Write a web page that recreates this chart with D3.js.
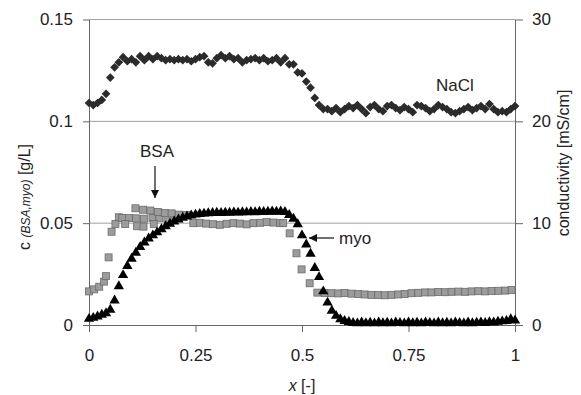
<!DOCTYPE html>
<html>
<head>
<meta charset="utf-8">
<script src="https://cdn.jsdelivr.net/npm/d3@7"></script>
<style>
  body { margin: 0; background: #fff; }
  svg text { font-family: "Liberation Sans", Arial, sans-serif; fill: #222; }
</style>
</head>
<body>
<div id="chart"></div>
<script>
// sample grid used by NaCl and myo (step 0.01)
const xGrid = d3.range(0, 101).map(i => i / 100);

// NaCl conductivity [mS/cm], right axis
const naclValues = [
  21.8, 21.6, 21.8, 22.1, 22.7, 24.3, 25.3, 25.8, 26.3, 25.9,
  26.1, 25.8, 26.4, 26.0, 26.4, 26.1, 26.4, 26.2, 26.0, 26.1,
  26.0, 26.1, 26.0, 26.1, 25.9, 26.1, 26.3, 26.4, 25.8, 25.7,
  26.2, 26.5, 26.2, 26.4, 26.1, 26.2, 25.8, 26.0, 26.1, 26.2,
  26.0, 26.2, 25.9, 26.0, 26.2, 25.8, 26.2, 25.6, 25.6, 24.8,
  24.7, 23.9, 23.3, 22.3, 21.6, 21.2, 21.2, 21.0, 21.3, 20.9,
  21.2, 21.5, 21.3, 21.6, 21.2, 20.8, 21.4, 21.6, 21.2, 21.0,
  21.5, 21.6, 21.3, 21.1, 21.4, 21.2, 20.9, 21.6, 21.5, 21.3,
  21.0, 21.2, 21.6, 21.4, 21.2, 20.9, 20.8, 21.0, 21.2, 21.4,
  21.1, 21.3, 21.5, 21.2, 21.7, 21.2, 20.9, 21.0, 20.9, 21.2,
  21.5
];

// myoglobin concentration [g/L], left axis
const myoValues = [
  0.0030, 0.0035, 0.0042, 0.0050, 0.0058, 0.0075, 0.0120, 0.0190, 0.0245, 0.0290,
  0.0325, 0.0355, 0.0383, 0.0405, 0.0425, 0.0440, 0.0455, 0.0470, 0.0485, 0.0497,
  0.0508, 0.0518, 0.0527, 0.0533, 0.0538, 0.0542, 0.0545, 0.0547, 0.0549, 0.0550,
  0.0551, 0.0550, 0.0552, 0.0551, 0.0553, 0.0552, 0.0554, 0.0553, 0.0555, 0.0554,
  0.0556, 0.0555, 0.0556, 0.0557, 0.0556, 0.0557, 0.0555, 0.0540, 0.0522, 0.0495,
  0.0440, 0.0395, 0.0350, 0.0280, 0.0235, 0.0165, 0.0110, 0.0070, 0.0045, 0.0028,
  0.0020, 0.0015, 0.0010, 0.0008, 0.0012, 0.0009, 0.0011, 0.0008, 0.0012, 0.0009,
  0.0011, 0.0008, 0.0012, 0.0010, 0.0008, 0.0012, 0.0009, 0.0011, 0.0008, 0.0012,
  0.0010, 0.0008, 0.0012, 0.0009, 0.0011, 0.0008, 0.0012, 0.0010, 0.0008, 0.0012,
  0.0009, 0.0011, 0.0013, 0.0010, 0.0014, 0.0012, 0.0016, 0.0018, 0.0020, 0.0028,
  0.0022
];

// BSA concentration [g/L], left axis (own sampling)
const bsaX = [
  0.000, 0.012, 0.024, 0.035, 0.040, 0.046, 0.053, 0.062, 0.070,
  0.078, 0.094, 0.110, 0.129, 0.149, 0.165, 0.184, 0.200,
  0.085, 0.113, 0.128, 0.152,
  0.109, 0.127, 0.144, 0.162, 0.178, 0.194, 0.211, 0.228,
  0.245, 0.260, 0.275, 0.291, 0.307, 0.323, 0.339, 0.354, 0.370,
  0.386, 0.402, 0.417, 0.433, 0.449, 0.456,
  0.471, 0.487, 0.499, 0.518, 0.536,
  0.553, 0.569, 0.585, 0.600, 0.616, 0.632, 0.647, 0.663, 0.679, 0.694,
  0.710, 0.726, 0.741, 0.757, 0.773, 0.789, 0.804, 0.820, 0.836, 0.851,
  0.867, 0.883, 0.898, 0.914, 0.930, 0.945, 0.961, 0.977, 0.992
];
const bsaValues = [
  0.0165, 0.0175, 0.0188, 0.0213, 0.0240, 0.0332, 0.0458, 0.0496, 0.0529,
  0.0525, 0.0525, 0.0524, 0.0522, 0.0525, 0.0524, 0.0520, 0.0518,
  0.0496, 0.0485, 0.0483, 0.0496,
  0.0573, 0.0566, 0.0562, 0.0555, 0.0550, 0.0548, 0.0542, 0.0540,
  0.0500, 0.0502, 0.0498, 0.0495, 0.0492, 0.0497, 0.0500, 0.0498, 0.0494,
  0.0500, 0.0502, 0.0505, 0.0503, 0.0500, 0.0500,
  0.0450, 0.0352, 0.0273, 0.0205, 0.0159,
  0.0157, 0.0156, 0.0155, 0.0157, 0.0154, 0.0152, 0.0150, 0.0148, 0.0147, 0.0146,
  0.0148, 0.0150, 0.0152, 0.0156, 0.0158, 0.0160, 0.0160, 0.0162, 0.0161, 0.0163,
  0.0164, 0.0163, 0.0165, 0.0166, 0.0165, 0.0167, 0.0168, 0.0169, 0.0172
];

const xTicks = [0, 0.25, 0.5, 0.75, 1];
const leftTicks = [0, 0.05, 0.1, 0.15];
const rightTicks = [0, 10, 20, 30];

const W = 581, H = 395;
const plot = { left: 89, right: 515, top: 19.5, bottom: 325 };

const svg = d3.select('#chart').append('svg').attr('width', W).attr('height', H);

const x = d3.scaleLinear().domain([0, 1]).range([plot.left, plot.right]);
const yL = d3.scaleLinear().domain([0, 0.15]).range([plot.bottom, plot.top]);
const yR = d3.scaleLinear().domain([0, 30]).range([plot.bottom, plot.top]);

// gridlines
svg.append('g')
  .selectAll('line')
  .data(leftTicks.filter(d => d > 0))
  .enter()
  .append('line')
  .attr('x1', plot.left).attr('x2', plot.right)
  .attr('y1', d => yL(d)).attr('y2', d => yL(d))
  .attr('stroke', '#a0a0a0').attr('stroke-width', 1);

const styleAxis = g => {
  g.select('.domain').attr('stroke', '#666');
  g.selectAll('.tick line').attr('stroke', '#666');
  g.selectAll('.tick text').attr('font-size', 17).attr('fill', '#222')
    .attr('font-family', '"Liberation Sans", Arial, sans-serif');
};

svg.append('g')
  .attr('transform', `translate(${plot.left},0)`)
  .call(d3.axisLeft(yL).tickValues(leftTicks).tickFormat(d => String(d)).tickSize(6).tickPadding(10).tickSizeOuter(0))
  .call(styleAxis);

svg.append('g')
  .attr('transform', `translate(${plot.right},0)`)
  .call(d3.axisRight(yR).tickValues(rightTicks).tickFormat(d => String(d)).tickSize(8).tickPadding(9).tickSizeOuter(0))
  .call(styleAxis);

svg.append('g')
  .attr('transform', `translate(0,${plot.bottom})`)
  .call(d3.axisBottom(x).tickValues(xTicks).tickFormat(d => String(d)).tickSize(7).tickPadding(17).tickSizeOuter(0))
  .call(styleAxis);

// BSA squares
const bsa = bsaX.map((d, i) => ({ x: d, v: bsaValues[i] }));
svg.append('g')
  .selectAll('rect')
  .data(bsa)
  .enter()
  .append('rect')
  .attr('x', d => x(d.x) - 3.5)
  .attr('y', d => yL(d.v) - 3.5)
  .attr('width', 7).attr('height', 7)
  .attr('fill', '#9c9c9c')
  .attr('stroke', '#6a6a6a')
  .attr('stroke-width', 0.8);

// myo triangles
const tri = d3.symbol().type(d3.symbolTriangle).size(46);
svg.append('g')
  .selectAll('path')
  .data(xGrid.map((d, i) => ({ x: d, v: myoValues[i] })))
  .enter()
  .append('path')
  .attr('d', tri)
  .attr('transform', d => `translate(${x(d.x)},${yL(d.v)})`)
  .attr('fill', '#000');

// NaCl diamonds
const dia = d3.symbol().type(d3.symbolSquare).size(38);
svg.append('g')
  .selectAll('path')
  .data(xGrid.map((d, i) => ({ x: d, v: naclValues[i] })))
  .enter()
  .append('path')
  .attr('d', dia)
  .attr('transform', d => `translate(${x(d.x)},${yR(d.v)}) rotate(45)`)
  .attr('fill', '#2b2b2b');

// annotations
svg.append('defs').append('marker')
  .attr('id', 'head')
  .attr('viewBox', '0 0 10 10')
  .attr('refX', 10).attr('refY', 5)
  .attr('markerWidth', 7).attr('markerHeight', 7)
  .attr('orient', 'auto')
  .append('path')
  .attr('d', 'M0,0 L10,5 L0,10 z')
  .attr('fill', '#111');

svg.append('text').attr('x', 455).attr('y', 91).attr('text-anchor', 'middle').attr('font-size', 17).text('NaCl');
svg.append('text').attr('x', 157).attr('y', 157).attr('text-anchor', 'middle').attr('font-size', 17).text('BSA');
svg.append('line').attr('x1', 155).attr('x2', 155).attr('y1', 166).attr('y2', 198)
  .attr('stroke', '#111').attr('stroke-width', 1.2).attr('marker-end', 'url(#head)');
svg.append('text').attr('x', 339).attr('y', 244).attr('font-size', 17).text('myo');
svg.append('line').attr('x1', 334).attr('x2', 309).attr('y1', 238).attr('y2', 238)
  .attr('stroke', '#111').attr('stroke-width', 1.2).attr('marker-end', 'url(#head)');

// axis titles
svg.append('text')
  .attr('x', 302).attr('y', 391).attr('text-anchor', 'middle').attr('font-size', 16)
  .html('<tspan font-style="italic">x</tspan> [-]');

svg.append('text')
  .attr('transform', 'translate(569,163) rotate(-90)')
  .attr('text-anchor', 'middle').attr('font-size', 16)
  .text('conductivity [mS/cm]');

svg.append('text')
  .attr('transform', 'translate(30,197) rotate(-90)')
  .attr('text-anchor', 'middle').attr('font-size', 16)
  .html('c <tspan font-size="12" font-style="italic">(BSA,myo)</tspan> [g/L]');
</script>
</body>
</html>
